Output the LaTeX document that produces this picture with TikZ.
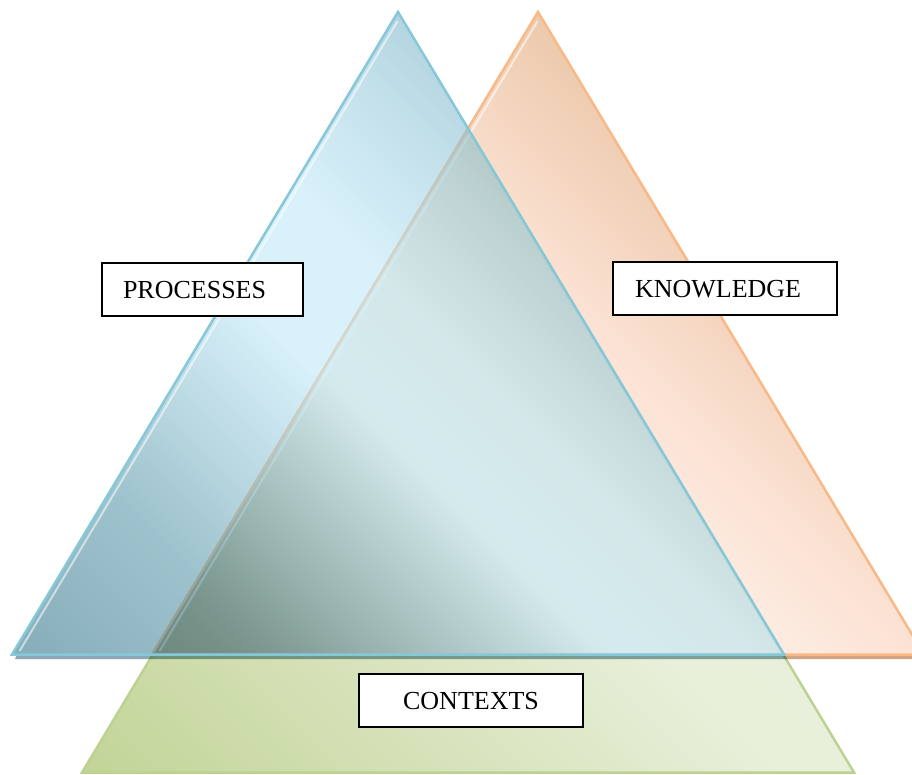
\documentclass[tikz,border=0pt]{standalone}
\usepackage{fontspec}
\setmainfont{Liberation Serif}
\definecolor{bA}{RGB}{55,118,140}
\definecolor{bB}{RGB}{95,155,173}
\definecolor{bC}{RGB}{192,232,248}
\definecolor{bM}{RGB}{150,200,218}
\definecolor{bD}{RGB}{110,167,185}
\definecolor{bE}{RGB}{100,160,180}
\definecolor{oA}{RGB}{115,60,10}
\definecolor{oB}{RGB}{130,75,20}
\definecolor{oC}{RGB}{255,242,235}
\definecolor{oD}{RGB}{248,200,172}
\definecolor{oE}{RGB}{220,157,104}
\definecolor{oF}{RGB}{215,150,100}
\definecolor{gA}{RGB}{190,208,145}
\definecolor{gB}{RGB}{195,212,152}
\definecolor{gC}{RGB}{232,240,218}
\definecolor{gD}{RGB}{236,243,226}
\definecolor{blueedge}{RGB}{133,200,216}
\definecolor{orangeedge}{RGB}{249,185,134}
\definecolor{greenedge}{RGB}{188,210,146}
\definecolor{blueshadow}{RGB}{138,169,181}
\definecolor{orangeshadow}{RGB}{212,165,132}
\pgfdeclarehorizontalshading{blueglass}{100bp}{color(0bp)=(bA); color(14.6bp)=(bA); color(28bp)=(bB); color(44bp)=(bC); color(52bp)=(bC); color(62bp)=(bM); color(70bp)=(bD); color(100bp)=(bE)}
\pgfdeclarehorizontalshading{orangeglass}{100bp}{color(0bp)=(oA); color(18bp)=(oB); color(38bp)=(oC); color(54bp)=(oD); color(66bp)=(oE); color(100bp)=(oF)}
\pgfdeclarehorizontalshading{greenglass}{100bp}{color(0bp)=(gA); color(15bp)=(gB); color(50bp)=(gC); color(100bp)=(gD)}
\begin{document}
\begin{tikzpicture}[x=1pt,y=-1pt,
  edge/.style={line width=2.5pt, line join=miter},
  shine/.style={white, opacity=0.55, line width=2pt},
  lbl/.style={draw=black, line width=1.5pt, fill=white, minimum height=53pt,
    inner ysep=0pt, font=\fontsize{26}{30}\selectfont, text height=17.2pt, text depth=0pt}]
\useasboundingbox (0,0) rectangle (912,775);
\clip (0,0) rectangle (912,775);
\coordinate (bT) at (398,12);  \coordinate (bL) at (12,654.5);  \coordinate (bR) at (784,654.5);
\coordinate (oT) at (538,12);  \coordinate (oL) at (152,654.5); \coordinate (oR) at (924,654.5);
\coordinate (gT) at (468,129); \coordinate (gL) at (82,772.5);  \coordinate (gR) at (854,772.5);
% green (contexts)
\shade[shading=greenglass, shading angle=45] (gT)--(gL)--(gR)--cycle;
\draw[edge, greenedge] (gT)--(gL)--(gR)--cycle;
% shadows
\fill[blueshadow, blend mode=multiply] (17,654.5)--(784,654.5)--(787,659)--(15,659)--cycle;
\fill[orangeshadow, blend mode=multiply] (784,654.5)--(924,654.5)--(927,659)--(787,659)--cycle;
% orange (knowledge)
\shade[shading=orangeglass, shading angle=45, fill opacity=0.55] (oT)--(oL)--(oR)--cycle;
\draw[edge, orangeedge] (oT)--(oL)--(oR)--cycle;
\draw[shine] (537.6,21)--(159.6,651);
% blue (processes)
\shade[shading=blueglass, shading angle=45, fill opacity=0.6] (bT)--(bL)--(bR)--cycle;
\draw[edge, blueedge] (bT)--(bL)--(bR)--cycle;
\draw[shine] (397.6,21)--(19.6,651);
% labels
\node[lbl, text width=159pt, inner xsep=21pt, align=left] (proc) at (202.5,289.5) {PROCESSES};
\node[lbl, text width=180pt, inner xsep=22pt, align=left] (know) at (725,288.5) {KNOWLEDGE};
\node[lbl, text width=180pt, inner xsep=22pt, align=center] (ctx) at (471,700.5) {CONTEXTS};
\end{tikzpicture}
\end{document}
